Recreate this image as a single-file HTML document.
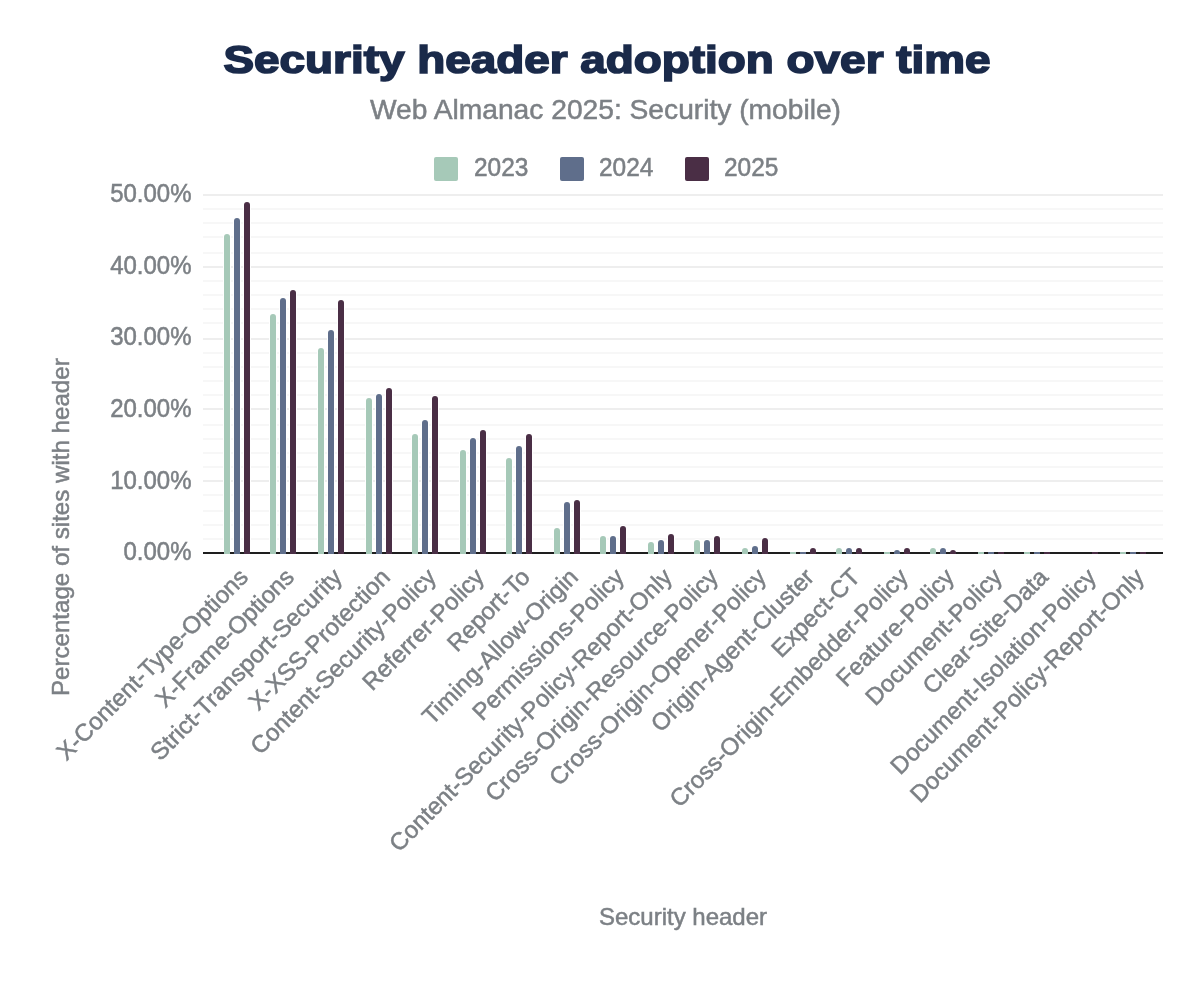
<!DOCTYPE html><html><head><meta charset="utf-8"><title>Security header adoption over time</title>
<style>html,body{margin:0;padding:0;background:#fff;}svg{display:block;will-change:transform;}text{font-family:"Liberation Sans",Arial,sans-serif;}.g{fill:#7c8085;stroke:#7c8085;stroke-width:0.5;}</style></head><body>
<svg width="1200" height="992" viewBox="0 0 1200 992">
<rect width="1200" height="992" fill="#fff"/>
<text x="607" y="73" text-anchor="middle" font-size="39.5" font-weight="700" fill="#1a2a4a" stroke="#1a2a4a" stroke-width="1.7" textLength="767" lengthAdjust="spacingAndGlyphs">Security header adoption over time</text>
<text x="605.5" y="118.8" text-anchor="middle" font-size="28" textLength="471" lengthAdjust="spacingAndGlyphs" class="g">Web Almanac 2025: Security (mobile)</text>
<rect x="434" y="157" width="24" height="24" rx="2" fill="#a6c9b8"/>
<text transform="translate(474 176.3) scale(1.02 1.07)" font-size="24" class="g">2023</text>
<rect x="560" y="157" width="24" height="24" rx="2" fill="#5f6e8b"/>
<text transform="translate(599 176.3) scale(1.02 1.07)" font-size="24" class="g">2024</text>
<rect x="685" y="157" width="24" height="24" rx="2" fill="#4a2e45"/>
<text transform="translate(724 176.3) scale(1.02 1.07)" font-size="24" class="g">2025</text>
<rect x="203" y="538" width="960" height="2" fill="#f7f7f7"/>
<rect x="203" y="524" width="960" height="2" fill="#f7f7f7"/>
<rect x="203" y="510" width="960" height="2" fill="#f7f7f7"/>
<rect x="203" y="494" width="960" height="2" fill="#f7f7f7"/>
<rect x="203" y="480" width="960" height="2" fill="#eeeeee"/>
<rect x="203" y="466" width="960" height="2" fill="#f7f7f7"/>
<rect x="203" y="452" width="960" height="2" fill="#f7f7f7"/>
<rect x="203" y="438" width="960" height="2" fill="#f7f7f7"/>
<rect x="203" y="424" width="960" height="2" fill="#f7f7f7"/>
<rect x="203" y="408" width="960" height="2" fill="#eeeeee"/>
<rect x="203" y="394" width="960" height="2" fill="#f7f7f7"/>
<rect x="203" y="380" width="960" height="2" fill="#f7f7f7"/>
<rect x="203" y="366" width="960" height="2" fill="#f7f7f7"/>
<rect x="203" y="352" width="960" height="2" fill="#f7f7f7"/>
<rect x="203" y="338" width="960" height="2" fill="#eeeeee"/>
<rect x="203" y="322" width="960" height="2" fill="#f7f7f7"/>
<rect x="203" y="308" width="960" height="2" fill="#f7f7f7"/>
<rect x="203" y="294" width="960" height="2" fill="#f7f7f7"/>
<rect x="203" y="280" width="960" height="2" fill="#f7f7f7"/>
<rect x="203" y="266" width="960" height="2" fill="#eeeeee"/>
<rect x="203" y="252" width="960" height="2" fill="#f7f7f7"/>
<rect x="203" y="236" width="960" height="2" fill="#f7f7f7"/>
<rect x="203" y="222" width="960" height="2" fill="#f7f7f7"/>
<rect x="203" y="208" width="960" height="2" fill="#f7f7f7"/>
<rect x="203" y="194" width="960" height="2" fill="#eeeeee"/>
<text transform="translate(191.5 560.0) scale(1 1.07)" text-anchor="end" font-size="24" class="g">0.00%</text>
<text transform="translate(191.5 489.3) scale(1 1.07)" text-anchor="end" font-size="24" class="g">10.00%</text>
<text transform="translate(191.5 417.1) scale(1 1.07)" text-anchor="end" font-size="24" class="g">20.00%</text>
<text transform="translate(191.5 345.0) scale(1 1.07)" text-anchor="end" font-size="24" class="g">30.00%</text>
<text transform="translate(191.5 273.9) scale(1 1.07)" text-anchor="end" font-size="24" class="g">40.00%</text>
<text transform="translate(191.5 201.8) scale(1 1.07)" text-anchor="end" font-size="24" class="g">50.00%</text>
<rect x="223" y="233" width="8" height="319" rx="4" fill="#fff"/>
<rect x="233" y="217" width="8" height="335" rx="4" fill="#fff"/>
<rect x="243" y="201" width="8" height="351" rx="4" fill="#fff"/>
<rect x="269" y="313" width="8" height="239" rx="4" fill="#fff"/>
<rect x="279" y="297" width="8" height="255" rx="4" fill="#fff"/>
<rect x="289" y="289" width="8" height="263" rx="4" fill="#fff"/>
<rect x="317" y="347" width="8" height="205" rx="4" fill="#fff"/>
<rect x="327" y="329" width="8" height="223" rx="4" fill="#fff"/>
<rect x="337" y="299" width="8" height="253" rx="4" fill="#fff"/>
<rect x="365" y="397" width="8" height="155" rx="4" fill="#fff"/>
<rect x="375" y="393" width="8" height="159" rx="4" fill="#fff"/>
<rect x="385" y="387" width="8" height="165" rx="4" fill="#fff"/>
<rect x="411" y="433" width="8" height="119" rx="4" fill="#fff"/>
<rect x="421" y="419" width="8" height="133" rx="4" fill="#fff"/>
<rect x="431" y="395" width="8" height="157" rx="4" fill="#fff"/>
<rect x="459" y="449" width="8" height="103" rx="4" fill="#fff"/>
<rect x="469" y="437" width="8" height="115" rx="4" fill="#fff"/>
<rect x="479" y="429" width="8" height="123" rx="4" fill="#fff"/>
<rect x="505" y="457" width="8" height="95" rx="4" fill="#fff"/>
<rect x="515" y="445" width="8" height="107" rx="4" fill="#fff"/>
<rect x="525" y="433" width="8" height="119" rx="4" fill="#fff"/>
<rect x="553" y="527" width="8" height="25" rx="4" fill="#fff"/>
<rect x="563" y="501" width="8" height="51" rx="4" fill="#fff"/>
<rect x="573" y="499" width="8" height="53" rx="4" fill="#fff"/>
<rect x="599" y="535" width="8" height="17" rx="4" fill="#fff"/>
<rect x="609" y="535" width="8" height="17" rx="4" fill="#fff"/>
<rect x="619" y="525" width="8" height="27" rx="4" fill="#fff"/>
<rect x="647" y="541" width="8" height="11" rx="4" fill="#fff"/>
<rect x="657" y="539" width="8" height="13" rx="4" fill="#fff"/>
<rect x="667" y="533" width="8" height="19" rx="4" fill="#fff"/>
<rect x="693" y="539" width="8" height="13" rx="4" fill="#fff"/>
<rect x="703" y="539" width="8" height="13" rx="4" fill="#fff"/>
<rect x="713" y="535" width="8" height="17" rx="4" fill="#fff"/>
<rect x="741" y="547" width="8" height="5" rx="4" fill="#fff"/>
<rect x="751" y="545" width="8" height="7" rx="4" fill="#fff"/>
<rect x="761" y="537" width="8" height="15" rx="4" fill="#fff"/>
<rect x="809" y="547" width="8" height="5" rx="4" fill="#fff"/>
<rect x="835" y="547" width="8" height="5" rx="4" fill="#fff"/>
<rect x="845" y="547" width="8" height="5" rx="4" fill="#fff"/>
<rect x="855" y="547" width="8" height="5" rx="4" fill="#fff"/>
<rect x="893" y="549" width="8" height="3" rx="4" fill="#fff"/>
<rect x="903" y="547" width="8" height="5" rx="4" fill="#fff"/>
<rect x="929" y="547" width="8" height="5" rx="4" fill="#fff"/>
<rect x="939" y="547" width="8" height="5" rx="4" fill="#fff"/>
<rect x="949" y="549" width="8" height="3" rx="4" fill="#fff"/>
<rect x="203" y="552" width="960" height="2" fill="#1e1e1e"/>
<path d="M224 554V237a3 3 0 0 1 6 0V554Z" fill="#a6c9b8"/>
<path d="M234 554V221a3 3 0 0 1 6 0V554Z" fill="#5f6e8b"/>
<path d="M244 554V205a3 3 0 0 1 6 0V554Z" fill="#4a2e45"/>
<path d="M270 554V317a3 3 0 0 1 6 0V554Z" fill="#a6c9b8"/>
<path d="M280 554V301a3 3 0 0 1 6 0V554Z" fill="#5f6e8b"/>
<path d="M290 554V293a3 3 0 0 1 6 0V554Z" fill="#4a2e45"/>
<path d="M318 554V351a3 3 0 0 1 6 0V554Z" fill="#a6c9b8"/>
<path d="M328 554V333a3 3 0 0 1 6 0V554Z" fill="#5f6e8b"/>
<path d="M338 554V303a3 3 0 0 1 6 0V554Z" fill="#4a2e45"/>
<path d="M366 554V401a3 3 0 0 1 6 0V554Z" fill="#a6c9b8"/>
<path d="M376 554V397a3 3 0 0 1 6 0V554Z" fill="#5f6e8b"/>
<path d="M386 554V391a3 3 0 0 1 6 0V554Z" fill="#4a2e45"/>
<path d="M412 554V437a3 3 0 0 1 6 0V554Z" fill="#a6c9b8"/>
<path d="M422 554V423a3 3 0 0 1 6 0V554Z" fill="#5f6e8b"/>
<path d="M432 554V399a3 3 0 0 1 6 0V554Z" fill="#4a2e45"/>
<path d="M460 554V453a3 3 0 0 1 6 0V554Z" fill="#a6c9b8"/>
<path d="M470 554V441a3 3 0 0 1 6 0V554Z" fill="#5f6e8b"/>
<path d="M480 554V433a3 3 0 0 1 6 0V554Z" fill="#4a2e45"/>
<path d="M506 554V461a3 3 0 0 1 6 0V554Z" fill="#a6c9b8"/>
<path d="M516 554V449a3 3 0 0 1 6 0V554Z" fill="#5f6e8b"/>
<path d="M526 554V437a3 3 0 0 1 6 0V554Z" fill="#4a2e45"/>
<path d="M554 554V531a3 3 0 0 1 6 0V554Z" fill="#a6c9b8"/>
<path d="M564 554V505a3 3 0 0 1 6 0V554Z" fill="#5f6e8b"/>
<path d="M574 554V503a3 3 0 0 1 6 0V554Z" fill="#4a2e45"/>
<path d="M600 554V539a3 3 0 0 1 6 0V554Z" fill="#a6c9b8"/>
<path d="M610 554V539a3 3 0 0 1 6 0V554Z" fill="#5f6e8b"/>
<path d="M620 554V529a3 3 0 0 1 6 0V554Z" fill="#4a2e45"/>
<path d="M648 554V545a3 3 0 0 1 6 0V554Z" fill="#a6c9b8"/>
<path d="M658 554V543a3 3 0 0 1 6 0V554Z" fill="#5f6e8b"/>
<path d="M668 554V537a3 3 0 0 1 6 0V554Z" fill="#4a2e45"/>
<path d="M694 554V543a3 3 0 0 1 6 0V554Z" fill="#a6c9b8"/>
<path d="M704 554V543a3 3 0 0 1 6 0V554Z" fill="#5f6e8b"/>
<path d="M714 554V539a3 3 0 0 1 6 0V554Z" fill="#4a2e45"/>
<path d="M742 554V551a3 3 0 0 1 6 0V554Z" fill="#a6c9b8"/>
<path d="M752 554V549a3 3 0 0 1 6 0V554Z" fill="#5f6e8b"/>
<path d="M762 554V541a3 3 0 0 1 6 0V554Z" fill="#4a2e45"/>
<rect x="790" y="552" width="6" height="2" fill="#a6c9b8"/>
<rect x="800" y="552" width="6" height="2" fill="#5f6e8b"/>
<path d="M810 554V551a3 3 0 0 1 6 0V554Z" fill="#4a2e45"/>
<path d="M836 554V551a3 3 0 0 1 6 0V554Z" fill="#a6c9b8"/>
<path d="M846 554V551a3 3 0 0 1 6 0V554Z" fill="#5f6e8b"/>
<path d="M856 554V551a3 3 0 0 1 6 0V554Z" fill="#4a2e45"/>
<rect x="884" y="552" width="6" height="2" fill="#a6c9b8"/>
<path d="M894 554V553a3 3 0 0 1 6 0V554Z" fill="#5f6e8b"/>
<path d="M904 554V551a3 3 0 0 1 6 0V554Z" fill="#4a2e45"/>
<path d="M930 554V551a3 3 0 0 1 6 0V554Z" fill="#a6c9b8"/>
<path d="M940 554V551a3 3 0 0 1 6 0V554Z" fill="#5f6e8b"/>
<path d="M950 554V553a3 3 0 0 1 6 0V554Z" fill="#4a2e45"/>
<rect x="978" y="552" width="6" height="2" fill="#a6c9b8"/>
<rect x="988" y="552" width="6" height="2" fill="#5f6e8b"/>
<rect x="998" y="552" width="6" height="2" fill="#4a2e45"/>
<rect x="1024" y="552" width="6" height="2" fill="#a6c9b8"/>
<rect x="1034" y="552" width="6" height="2" fill="#5f6e8b"/>
<rect x="1044" y="552" width="6" height="2" fill="#4a2e45"/>
<rect x="1092" y="552" width="6" height="2" fill="#4a2e45"/>
<rect x="1120" y="552" width="6" height="2" fill="#a6c9b8"/>
<rect x="1130" y="552" width="6" height="2" fill="#5f6e8b"/>
<rect x="1140" y="552" width="6" height="2" fill="#4a2e45"/>
<text transform="translate(249.5 578.5) rotate(-45)" text-anchor="end" font-size="24" class="g">X-Content-Type-Options</text>
<text transform="translate(295.5 578.5) rotate(-45)" text-anchor="end" font-size="24" class="g">X-Frame-Options</text>
<text transform="translate(343.5 578.5) rotate(-45)" text-anchor="end" font-size="24" class="g">Strict-Transport-Security</text>
<text transform="translate(391.5 578.5) rotate(-45)" text-anchor="end" font-size="24" class="g">X-XSS-Protection</text>
<text transform="translate(437.5 578.5) rotate(-45)" text-anchor="end" font-size="24" class="g">Content-Security-Policy</text>
<text transform="translate(485.5 578.5) rotate(-45)" text-anchor="end" font-size="24" class="g">Referrer-Policy</text>
<text transform="translate(531.5 578.5) rotate(-45)" text-anchor="end" font-size="24" class="g">Report-To</text>
<text transform="translate(579.5 578.5) rotate(-45)" text-anchor="end" font-size="24" class="g">Timing-Allow-Origin</text>
<text transform="translate(625.5 578.5) rotate(-45)" text-anchor="end" font-size="24" class="g">Permissions-Policy</text>
<text transform="translate(673.5 578.5) rotate(-45)" text-anchor="end" font-size="24" class="g">Content-Security-Policy-Report-Only</text>
<text transform="translate(719.5 578.5) rotate(-45)" text-anchor="end" font-size="24" class="g">Cross-Origin-Resource-Policy</text>
<text transform="translate(767.5 578.5) rotate(-45)" text-anchor="end" font-size="24" class="g">Cross-Origin-Opener-Policy</text>
<text transform="translate(815.5 578.5) rotate(-45)" text-anchor="end" font-size="24" class="g">Origin-Agent-Cluster</text>
<text transform="translate(861.5 578.5) rotate(-45)" text-anchor="end" font-size="24" class="g">Expect-CT</text>
<text transform="translate(909.5 578.5) rotate(-45)" text-anchor="end" font-size="24" class="g">Cross-Origin-Embedder-Policy</text>
<text transform="translate(955.5 578.5) rotate(-45)" text-anchor="end" font-size="24" class="g">Feature-Policy</text>
<text transform="translate(1003.5 578.5) rotate(-45)" text-anchor="end" font-size="24" class="g">Document-Policy</text>
<text transform="translate(1049.5 578.5) rotate(-45)" text-anchor="end" font-size="24" class="g">Clear-Site-Data</text>
<text transform="translate(1097.5 578.5) rotate(-45)" text-anchor="end" font-size="24" class="g">Document-Isolation-Policy</text>
<text transform="translate(1145.5 578.5) rotate(-45)" text-anchor="end" font-size="24" class="g">Document-Policy-Report-Only</text>
<text x="683" y="925" text-anchor="middle" font-size="24" class="g">Security header</text>
<text transform="translate(69 527.2) rotate(-90)" text-anchor="middle" textLength="337.8" lengthAdjust="spacingAndGlyphs" font-size="24" class="g">Percentage of sites with header</text>
</svg></body></html>
